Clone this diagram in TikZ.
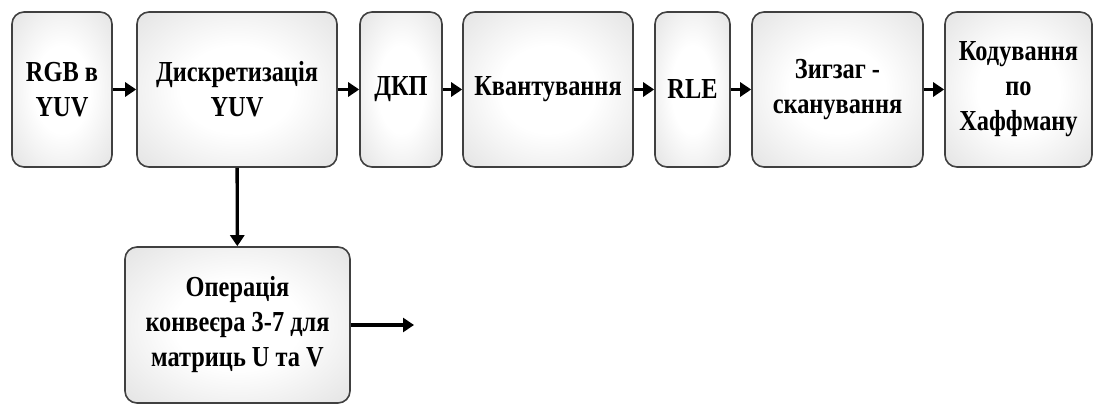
\documentclass[tikz,border=0pt]{standalone}
\usepackage{fontspec}
\setmainfont{Liberation Serif}[FakeStretch=0.84]
\usetikzlibrary{arrows.meta,shapes.misc}

\pgfdeclareradialshading{blokfon}{\pgfpoint{0bp}{0bp}}{%
  color(0bp)=(white); color(14bp)=(white); color(38bp)=(black!12);
  color(50bp)=(black!24); color(72bp)=(black!38)}

\tikzset{
  blok/.style={draw=black!75, line width=0.8pt, rounded corners=6pt,
    shading=blokfon, minimum height=77.5pt, align=center,
    font=\bfseries\fontsize{14.5}{17.5}\selectfont},
  strilka/.style={line width=1.7pt, -{Triangle[length=5.5pt,width=7pt]}}
}

\begin{document}
\begin{tikzpicture}[x=0.5pt,y=-0.5pt]
        \useasboundingbox (0,0) rectangle (1094,405);
        % bloky
        \node[blok, minimum width=50pt]   (rgb)  at (62,89.5)   {RGB в\\YUV};
        \node[blok, minimum width=100pt]  (disc) at (237,89.5)  {Дискретизація\\YUV};
        \node[blok, minimum width=41pt]   (dkp)  at (401,89.5)  {ДКП};
        \node[blok, minimum width=85pt]   (kvant) at (548,89.5) {Квантування};
        \node[blok, minimum width=37.5pt] (rle)  at (692.5,89.5) {RLE};
        \node[blok, minimum width=85.5pt] (zig)  at (837.5,89.5) {Зигзаг -\\сканування};
        \node[blok, minimum width=73.5pt] (huff) at (1018.5,89.5) {Кодування\\по\\Хаффману};
        \node[blok, minimum width=112.5pt, minimum height=78pt] (ops) at (237.5,325)
                {Операція\\конвеєра 3-7 для\\матриць U та V};
        \coordinate (vyhid) at (414,325);
        % strilky
        \draw[strilka] (rgb) -- (disc);
        \draw[strilka] (disc) -- (dkp);
        \draw[strilka] (dkp) -- (kvant);
        \draw[strilka] (kvant) -- (rle);
        \draw[strilka] (rle) -- (zig);
        \draw[strilka] (zig) -- (huff);
        \draw[strilka] (disc) -- (ops);
        \draw[strilka] (ops) -- (vyhid);
\end{tikzpicture}
\end{document}
